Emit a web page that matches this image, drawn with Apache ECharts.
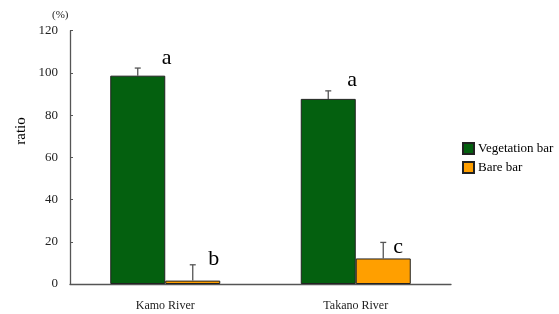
<!DOCTYPE html>
<html>
<head>
<meta charset="utf-8">
<script src="https://cdn.jsdelivr.net/npm/echarts@6/dist/echarts.min.js"></script>
<style>
  html, body { margin: 0; padding: 0; background: #fff; }
  #chart { width: 559px; height: 314px; }
</style>
</head>
<body>
<div id="chart"></div>
<script>
const categories = ['Kamo River', 'Takano River'];
const vegetation = [98.7, 87.7];
const vegetationErr = [3.6, 3.8];
const bare = [1.6, 12.1];
const bareErr = [7.5, 7.6];
const vegetationLetters = ['a', 'a'];
const bareLetters = ['b', 'c'];
const yTicks = [0, 20, 40, 60, 80, 100, 120];

const FONT = '"Liberation Serif", "DejaVu Serif", serif';
const BAR_W = 55;
// letter placement relative to the top of each error bar [dx, dy]
const vegLetterPos = [[29, -10], [24, -11]];
const bareLetterPos = [[21, -6], [15, 5]];

const chart = echarts.init(document.getElementById('chart'));

function errorSeries(name, values, errs, letters, side, letterPos) {
  return {
    type: 'custom',
    name: name + ' err',
    z: 5,
    data: values.map((v, i) => [i, v, errs[i], letters[i]]),
    renderItem: function (params, api) {
      const i = api.value(0);
      const v = api.value(1);
      const e = api.value(2);
      const base = api.coord([i, v]);
      const top = api.coord([i, v + e]);
      const x = base[0] + side * BAR_W / 2;
      const pos = letterPos[i];
      const line = { stroke: '#555', lineWidth: 1.3 };
      return {
        type: 'group',
        children: [
          { type: 'line', shape: { x1: x, y1: base[1], x2: x, y2: top[1] }, style: line },
          { type: 'line', shape: { x1: x - 3, y1: top[1], x2: x + 3, y2: top[1] }, style: line },
          {
            type: 'text',
            x: x + pos[0],
            y: top[1] + pos[1],
            style: {
              text: letters[i],
              fontFamily: FONT,
              fontSize: 22,
              fill: '#000',
              align: 'center',
              verticalAlign: 'middle'
            }
          }
        ]
      };
    }
  };
}

const option = {
  animation: false,
  grid: { left: 70, right: 108, top: 30.7, bottom: 30 },
  legend: {
    orient: 'vertical',
    left: 462,
    top: 142,
    padding: 0,
    itemWidth: 11,
    itemHeight: 11,
    itemGap: 6,
    icon: 'rect',
    data: ['Vegetation bar', 'Bare bar'],
    textStyle: { fontFamily: FONT, fontSize: 13, color: '#000', padding: [0, 0, 0, -1] }
  },
  xAxis: {
    type: 'category',
    data: categories,
    axisLine: { lineStyle: { color: '#555', width: 1.3 } },
    axisTick: { inside: true, length: 4, lineStyle: { color: '#555' } },
    axisLabel: { fontFamily: FONT, fontSize: 12, color: '#222', margin: 16 }
  },
  yAxis: {
    type: 'value',
    min: yTicks[0],
    max: yTicks[yTicks.length - 1],
    interval: 20,
    splitLine: { show: false },
    axisLine: { show: true, lineStyle: { color: '#555', width: 1.3 } },
    axisTick: { show: true, inside: true, length: 3, lineStyle: { color: '#555' } },
    axisLabel: { fontFamily: FONT, fontSize: 13, color: '#222', margin: 12 }
  },
  graphic: [
    {
      type: 'text', left: 52, top: 10,
      style: { text: '(%)', fontFamily: FONT, fontSize: 11, fill: '#222' }
    },
    {
      type: 'text', x: 21, y: 131, rotation: Math.PI / 2,
      style: { text: 'ratio', fontFamily: FONT, fontSize: 15, fill: '#000', align: 'center', verticalAlign: 'middle' }
    }
  ],
  series: [
    {
      name: 'Vegetation bar',
      type: 'bar',
      data: vegetation,
      barWidth: BAR_W,
      barGap: '0%',
      itemStyle: { color: '#04600f', borderColor: '#222', borderWidth: 1 }
    },
    {
      name: 'Bare bar',
      type: 'bar',
      data: bare,
      barWidth: BAR_W,
      barGap: '0%',
      itemStyle: { color: '#ff9f00', borderColor: '#222', borderWidth: 1 }
    },
    errorSeries('Vegetation bar', vegetation, vegetationErr, vegetationLetters, -1, vegLetterPos),
    errorSeries('Bare bar', bare, bareErr, bareLetters, 1, bareLetterPos)
  ]
};

chart.setOption(option);
</script>
</body>
</html>
